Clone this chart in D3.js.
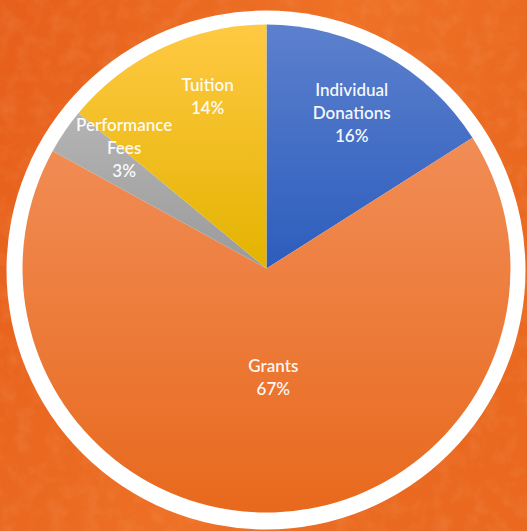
<!DOCTYPE html>
<html>
<head>
<meta charset="utf-8">
<script src="https://cdn.jsdelivr.net/npm/d3@7"></script>
<style>
  html, body { margin: 0; padding: 0; background: #eb6a20; overflow: hidden; }
  svg { display: block; }
</style>
</head>
<body>
<div id="chart"></div>
<script>
const categories = ["Individual Donations", "Grants", "Performance Fees", "Tuition"];
const values = [16, 67, 3, 14];
const labelLines = [["Individual", "Donations"], ["Grants"], ["Performance", "Fees"], ["Tuition"]];
const colorsTop = ["#5c80cd", "#f18d56", "#b4b4b4", "#ffc943"];
const colorsBottom = ["#2c5dbd", "#e8691d", "#9a9a9a", "#e3b300"];
// label placement (fraction of radius, angle shift in degrees)
const labelRadius = [0.725, 0.447, 0.765, 0.745];
const labelShift = [0, -1.8, 6.1, 6.3];

const W = 527, H = 531;
const cx = 266.5, cy = 268.5, R = 244;

const svg = d3.select("#chart").append("svg").attr("width", W).attr("height", H);
const defs = svg.append("defs");

// background texture
const filt = defs.append("filter").attr("id", "tex").attr("x", 0).attr("y", 0).attr("width", "100%").attr("height", "100%");
filt.append("feTurbulence").attr("type", "fractalNoise").attr("baseFrequency", 0.06).attr("numOctaves", 4).attr("seed", 3).attr("result", "n");
filt.append("feColorMatrix").attr("in", "n").attr("type", "matrix")
  .attr("values", "0 0 0 0 1  0 0 0 0 0.72  0 0 0 0 0.4  1.2 0 0 0 -0.5");

const bgGrad = defs.append("linearGradient").attr("id", "bgg").attr("x1", "0%").attr("y1", "0%").attr("x2", "100%").attr("y2", "30%");
bgGrad.append("stop").attr("offset", "0%").attr("stop-color", "#e65f1b");
bgGrad.append("stop").attr("offset", "60%").attr("stop-color", "#ee7126");
bgGrad.append("stop").attr("offset", "100%").attr("stop-color", "#ea6820");

svg.append("rect").attr("width", W).attr("height", H).attr("fill", "url(#bgg)");
svg.append("rect").attr("width", W).attr("height", H).attr("filter", "url(#tex)").attr("opacity", 0.18);

// white ring
svg.append("circle").attr("cx", 266).attr("cy", 270).attr("r", 259.5).attr("fill", "#ffffff");

// vertical gradient per slice (bounding box)
categories.forEach((c, i) => {
  const g = defs.append("linearGradient").attr("id", "g" + i)
    .attr("x1", 0).attr("y1", 0).attr("x2", 0).attr("y2", 1);
  g.append("stop").attr("offset", "0%").attr("stop-color", colorsTop[i]);
  g.append("stop").attr("offset", "100%").attr("stop-color", colorsBottom[i]);
});

const pie = d3.pie().sort(null).value(d => d);
const arcs = pie(values);
const arc = d3.arc().innerRadius(0).outerRadius(R);

const gPie = svg.append("g").attr("transform", `translate(${cx},${cy})`);
gPie.selectAll("path").data(arcs).join("path")
  .attr("d", arc)
  .attr("fill", (d, i) => `url(#g${i})`);

// labels
const fontSize = 17;
const lineH = 23;
arcs.forEach((a, i) => {
  const ang = (a.startAngle + a.endAngle) / 2 + labelShift[i] * Math.PI / 180;
  const r = R * labelRadius[i];
  const x = r * Math.sin(ang), y = -r * Math.cos(ang);
  const lines = labelLines[i].concat([values[i] + "%"]);
  const t = gPie.append("text")
    .attr("text-anchor", "middle")
    .attr("font-family", "Lato, 'Open Sans', sans-serif")
    .attr("font-size", fontSize)
    .attr("font-weight", 600)
    .attr("fill", "#ffffff")
    .attr("fill-opacity", 0.94);
  const n = lines.length;
  lines.forEach((l, k) => {
    t.append("tspan").attr("x", x).attr("y", y + (k - (n - 1) / 2) * lineH).attr("dy", "0.35em").text(l);
  });
});
</script>
</body>
</html>
